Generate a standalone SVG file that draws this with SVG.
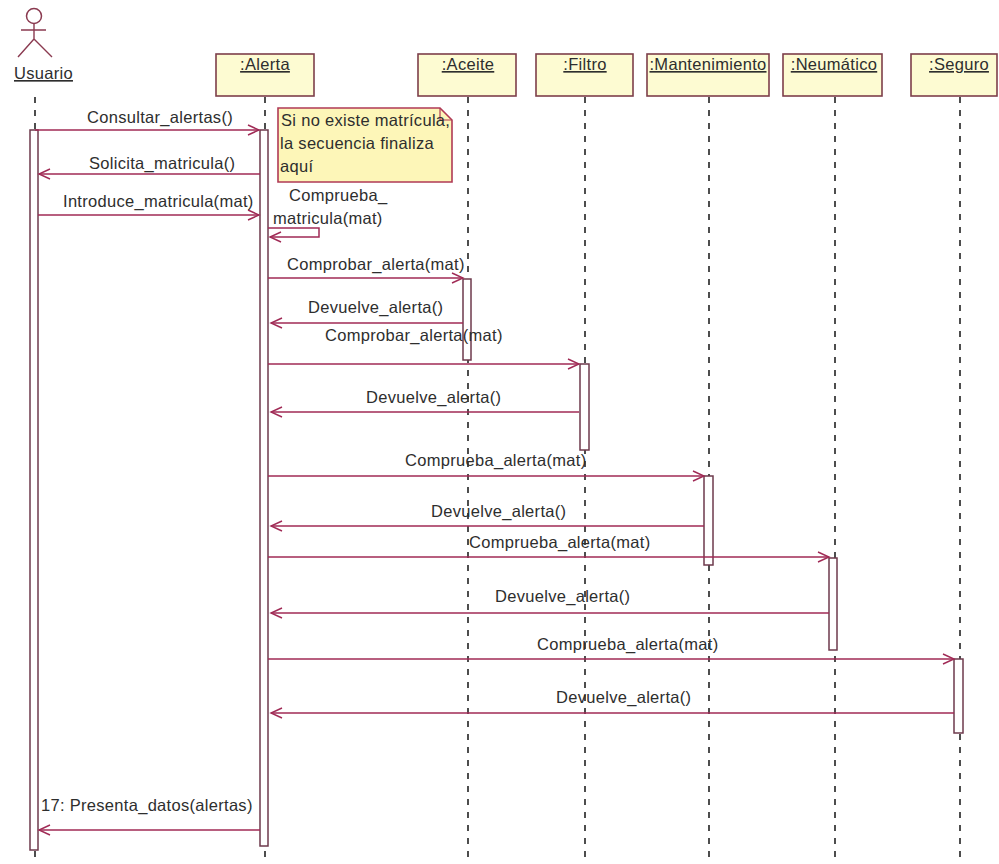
<svg xmlns="http://www.w3.org/2000/svg" width="999" height="864" viewBox="0 0 999 864">
<defs>
<marker id="open" markerWidth="14" markerHeight="12" refX="12" refY="6" orient="auto" markerUnits="userSpaceOnUse"><path d="M1 1 L12 6 L1 11" fill="none" stroke="#a02a55" stroke-width="1.4"/></marker>
</defs>
<style>
text{font-family:"Liberation Sans",Arial,sans-serif;font-size:16.5px;letter-spacing:.3px;fill:#2e2e2e}
.m{text-anchor:middle}
.box{fill:#fdfbd2;stroke:#7d3f4a;stroke-width:1.6}
.life{stroke:#222;stroke-width:1.6;stroke-dasharray:6 7;fill:none}
.act{fill:#fff;stroke:#6e3a4c;stroke-width:1.5}
.msg{stroke:#a02a55;stroke-width:1.5;fill:none;marker-end:url(#open)}
.ul{text-decoration:underline}
</style>
<g id="lifelines">
<line class="life" x1="35" y1="97" x2="35" y2="862"/>
<line class="life" x1="265" y1="97" x2="265" y2="862"/>
<line class="life" x1="468" y1="97" x2="468" y2="862"/>
<line class="life" x1="585" y1="97" x2="585" y2="862"/>
<line class="life" x1="709" y1="97" x2="709" y2="862"/>
<line class="life" x1="835" y1="97" x2="835" y2="862"/>
<line class="life" x1="960" y1="97" x2="960" y2="862"/>
</g>
<g id="usuario">
<circle cx="34" cy="16" r="7.5" fill="#fff" stroke="#8a3a50" stroke-width="1.5"/>
<path d="M34 24V39M21 30H46M34 39L18 57M34 39L52 57" fill="none" stroke="#8a3a50" stroke-width="1.4"/>
<text x="14" y="79" class="ul">Usuario</text>
<rect class="act" x="30" y="130" width="8" height="720"/>
</g>
<g id="alerta">
<rect class="box" x="216" y="54" width="98" height="42"/>
<text x="265" y="70" class="m ul">:Alerta</text>
<rect class="act" x="260" y="130" width="8" height="716"/>
</g>
<g id="aceite">
<rect class="box" x="418" y="54" width="98" height="42"/>
<text x="468" y="70" class="m ul">:Aceite</text>
<rect class="act" x="463" y="279" width="8" height="81"/>
</g>
<g id="filtro">
<rect class="box" x="536" y="54" width="97" height="42"/>
<text x="585" y="70" class="m ul">:Filtro</text>
<rect class="act" x="580" y="364" width="9" height="86"/>
</g>
<g id="mantenimiento">
<rect class="box" x="647" y="54" width="122" height="42"/>
<text x="708" y="70" class="m ul">:Mantenimiento</text>
<rect class="act" x="704" y="476" width="9" height="89"/>
</g>
<g id="neumatico">
<rect class="box" x="783" y="54" width="99" height="42"/>
<text x="834" y="70" class="m ul">:Neumático</text>
<rect class="act" x="829" y="558" width="8" height="92"/>
</g>
<g id="seguro">
<rect class="box" x="911" y="54" width="86" height="42"/>
<text x="959" y="70" class="m ul">:Seguro</text>
<rect class="act" x="954" y="659" width="9" height="74"/>
</g>
<g id="note">
<path d="M278 108H440L452 120V182H278Z" fill="#fdf6b8" stroke="#b03a55" stroke-width="1.6"/>
<path d="M440 108V120H452" fill="none" stroke="#b03a55" stroke-width="1.2"/>
<text x="281" y="126">Si no existe matrícula,</text>
<text x="280" y="149">la secuencia finaliza</text>
<text x="280" y="172">aquí</text>
</g>
<g id="connectors">
<line class="msg" x1="35" y1="130" x2="259" y2="130"/>
<line class="msg" x1="260" y1="174" x2="39" y2="174"/>
<line class="msg" x1="38" y1="215" x2="259" y2="215"/>
<path class="msg" d="M268 228H319V237H270"/>
<line class="msg" x1="268" y1="278" x2="463" y2="278"/>
<line class="msg" x1="463" y1="323" x2="271" y2="323"/>
<line class="msg" x1="268" y1="364" x2="579" y2="364"/>
<line class="msg" x1="579" y1="412" x2="271" y2="412"/>
<line class="msg" x1="268" y1="476" x2="704" y2="476"/>
<line class="msg" x1="704" y1="526" x2="271" y2="526"/>
<line class="msg" x1="268" y1="557" x2="829" y2="557"/>
<line class="msg" x1="829" y1="613" x2="271" y2="613"/>
<line class="msg" x1="268" y1="659" x2="954" y2="659"/>
<line class="msg" x1="954" y1="713" x2="271" y2="713"/>
<line class="msg" x1="260" y1="830" x2="39" y2="830"/>
</g>
<g id="labels">
<text x="87" y="123">Consultar_alertas()</text>
<text x="89" y="169">Solicita_matricula()</text>
<text x="63" y="207">Introduce_matricula(mat)</text>
<text x="289" y="201">Comprueba_</text>
<text x="273" y="224">matricula(mat)</text>
<text x="287" y="270">Comprobar_alerta(mat)</text>
<text x="308" y="313">Devuelve_alerta()</text>
<text x="325" y="341">Comprobar_alerta(mat)</text>
<text x="366" y="403">Devuelve_alerta()</text>
<text x="405" y="466">Comprueba_alerta(mat)</text>
<text x="431" y="517">Devuelve_alerta()</text>
<text x="469" y="548">Comprueba_alerta(mat)</text>
<text x="495" y="602">Devuelve_alerta()</text>
<text x="537" y="650">Comprueba_alerta(mat)</text>
<text x="556" y="703">Devuelve_alerta()</text>
<text x="41" y="811">17: Presenta_datos(alertas)</text>
</g>
</svg>
